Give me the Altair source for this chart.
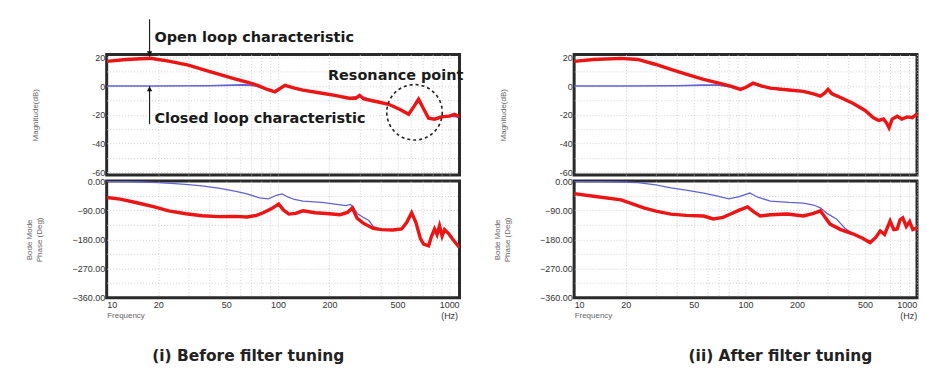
import altair as alt
import pandas as pd

# ---------------- (i) Before filter tuning ----------------
b_mag_open_f = [10, 13, 18, 23, 30, 37, 46, 56, 66, 76, 86, 96, 110, 125, 140, 181, 215, 260, 285, 300,
                318, 368, 444, 520, 580, 625, 663, 710, 759, 822, 900, 1000, 1075, 1150]
b_mag_open_db = [17.2, 18.5, 19.3, 17.4, 14.5, 11.3, 8.0, 5.0, 2.8, 0.5, -2.2, -4.0, 0.5, -1.5, -2.8, -5.0, -6.5, -8.5, -8.5, -6.5,
                 -9.0, -10.6, -12.7, -16.5, -19.7, -14.0, -9.2, -16.0, -22.4, -23.1, -21.5, -21.0, -19.7, -21.5]
b_mag_closed_f = [10, 20, 40, 55, 65, 75, 86, 96, 110, 125, 140, 181, 215, 260, 300, 368, 444, 520, 580, 625,
                  663, 710, 759, 822, 900, 1000, 1150]
b_mag_closed_db = [0.0, 0.0, 0.2, 0.6, 0.8, 0.0, -2.4, -4.2, 0.2, -1.6, -3.0, -5.0, -6.5, -8.5, -6.8, -10.6, -12.7, -16.5, -19.5, -14.0,
                   -9.5, -16.0, -22.0, -22.8, -21.5, -21.0, -21.5]
b_ph_open_f = [10, 12, 15, 19, 23, 29, 36, 45, 56, 66, 75, 82, 92, 101, 108, 116, 127, 140, 165, 200,
               230, 255, 272, 290, 315, 360, 404, 470, 528, 565, 604, 640, 680, 709, 759, 790, 822, 850, 879, 910,
               940, 993, 1050, 1150]
b_ph_open_deg = [-51, -56, -67, -80, -92, -101, -107, -110, -109, -111, -106, -98, -85, -71, -90, -102, -100, -92, -98, -101,
                 -104, -97, -83, -115, -130, -146, -150, -151, -148, -128, -98, -128, -178, -195, -200, -170, -148, -165, -138, -170,
                 -150, -162, -180, -206]
b_ph_closed_f = [10, 13, 16, 20, 25, 30, 36, 45, 56, 66, 78, 88, 98, 106, 115, 125, 140, 180, 215, 250,
                 265, 275, 290, 315, 340, 360, 404, 470, 528, 565, 604, 640, 680, 709, 759, 790, 822, 850, 879, 910,
                 940, 993, 1050, 1150]
b_ph_closed_deg = [-1, -2, -3, -5, -8, -11, -15, -22, -31, -40, -52, -55, -44, -40, -50, -57, -62, -66, -71, -76,
                   -72, -80, -100, -112, -122, -140, -150, -151, -148, -128, -98, -128, -178, -195, -200, -170, -148, -165, -138, -170,
                   -150, -162, -180, -206]

# ---------------- (ii) After filter tuning ----------------
a_mag_open_f = [10, 13, 18.8, 23.5, 30, 36.7, 46, 57, 70, 82, 93.5, 100, 111, 125, 140, 180, 218, 250, 274, 290,
                304, 320, 344, 424, 500, 557, 600, 640, 670, 690, 720, 770, 820, 880, 940, 1000, 1120]
a_mag_open_db = [17.2, 18.5, 19.3, 18.5, 15.0, 11.6, 8.0, 4.7, 2.0, 0.0, -2.3, -1.0, 2.0, 0.0, -1.5, -2.8, -3.7, -5.5, -7.0, -5.0,
                 -2.3, -5.5, -7.0, -12.0, -17.0, -22.0, -24.0, -23.0, -26.0, -29.0, -23.0, -21.0, -23.0, -21.5, -22.0, -19.7, -20.5]
a_mag_closed_f = [10, 20, 40, 57, 70, 82, 93.5, 100, 111, 125, 140, 180, 218, 274, 304, 344, 424, 500, 557, 600,
                  640, 670, 690, 720, 770, 820, 880, 940, 1000, 1120]
a_mag_closed_db = [0.0, 0.0, 0.2, 0.6, 0.6, -0.6, -2.6, -1.4, 1.6, -0.4, -1.8, -3.0, -3.8, -7.0, -2.8, -7.0, -12.0, -17.0, -22.0, -24.0,
                   -23.0, -26.0, -29.0, -23.0, -21.0, -23.0, -21.5, -22.0, -19.7, -20.5]
a_ph_open_f = [10, 13, 18.8, 25.5, 30, 36.7, 45, 57, 65, 74, 82, 92, 103, 112, 122, 140, 176, 218, 250, 274,
               312, 360, 424, 480, 535, 575, 613, 650, 700, 735, 770, 800, 830, 870, 910, 950, 1000, 1060, 1120]
a_ph_open_deg = [-39, -47, -58, -83, -93, -102, -106, -108, -117, -112, -102, -90, -80, -95, -108, -104, -102, -108, -100, -92,
                 -133, -150, -163, -176, -190, -175, -154, -165, -123, -150, -148, -120, -114, -140, -125, -150, -145, -165, -190]
a_ph_closed_f = [10, 14, 18.8, 23.5, 30, 36.7, 46, 57, 68, 80, 92, 106, 118, 140, 180, 218, 250, 274, 300, 340,
                 380, 424, 480, 535, 575, 613, 650, 700, 735, 770, 800, 830, 870, 910, 950, 1000, 1060, 1120]
a_ph_closed_deg = [-1, -2, -3, -5, -12, -21, -29, -37, -46, -55, -48, -37, -50, -62, -66, -68, -74, -83, -100, -117,
                   -145, -163, -176, -190, -175, -154, -165, -123, -150, -148, -120, -114, -140, -125, -150, -145, -165, -190]

# ---------------- annotations (left panel) ----------------
ann_text = ["Open loop characteristic", "Closed loop characteristic", "Resonance point"]
ann_f = [19.0, 19.0, 196]
ann_db = [33.2, -23.1, 6.8]
arrow_f = [17.8, 17.8]
arrow_from = [46.5, -26.6]
arrow_to = [20.5, 0.0]
arrow_dir = ["down", "up"]
res_f = [628]
res_db = [-18.3]

# ---------------- axes ----------------
freq_ticks = [10, 20, 30, 40, 50, 60, 70, 80, 90, 100, 200, 300, 400, 500, 600, 700, 800, 900, 1000]
mag_ticks = [20, 10, 0, -10, -20, -30, -40, -50, -60]
phase_ticks = [0, -45, -90, -135, -180, -225, -270, -315, -360]
captions = ["(i) Before filter tuning", "(ii) After filter tuning"]

RED = "#ee1414"
BLUE = "#6262d4"
FONT = "Liberation Sans"
BOLD_FONT = "DejaVu Sans"

freq_label_expr = ("datum.value == 1000 ? ['1000', '(Hz)'] : "
                   "(indexof([10, 20, 50, 100, 200, 500], datum.value) >= 0 ? '' + datum.value : '')")


def df(f, v):
    return pd.DataFrame({"f": f, "v": v, "i": list(range(len(f)))})


def bode(mag_o, mag_c, ph_o, ph_c, width, fmax, caption, cap_dx, annotate):
    xs = alt.Scale(type="log", domain=[10, fmax], nice=False)
    x_grid_op = {"condition": {"test": "datum.value == 10", "value": 0}, "value": 1}
    x_top = alt.X("f:Q", scale=xs,
                  axis=alt.Axis(values=freq_ticks, labels=False, ticks=False, domain=False, title=None,
                                gridOpacity=x_grid_op))
    y_mag = alt.Y("v:Q", scale=alt.Scale(domain=[-62, 22], nice=False, zero=False),
                  axis=alt.Axis(values=mag_ticks, labelExpr="datum.value % 20 == 0 ? '' + datum.value : ''",
                                labelOverlap=False, title="Magnitude(dB)", titleX=-67,
                                ticks=False, domain=False))

    def line(d, color, w, x, y):
        return alt.Chart(d).mark_line(color=color, strokeWidth=w, clip=True).encode(x=x, y=y, order="i:Q")

    mag_layers = [line(df(*mag_c), BLUE, 1.6, x_top, y_mag), line(df(*mag_o), RED, 3.4, x_top, y_mag)]
    if annotate:
        tdf = pd.DataFrame({"f": ann_f, "v": ann_db, "t": ann_text})
        adf = pd.DataFrame({"f": arrow_f, "v": arrow_from, "v2": arrow_to})
        hdf = pd.DataFrame({"f": arrow_f,
                            "v": [t + 2 if d == "down" else t - 2 for t, d in zip(arrow_to, arrow_dir)],
                            "d": arrow_dir})
        cdf = pd.DataFrame({"f": res_f, "v": res_db})
        mag_layers += [
            alt.Chart(adf).mark_rule(color="#222", strokeWidth=1.2).encode(x=x_top, y=y_mag, y2="v2:Q"),
            alt.Chart(hdf).mark_point(filled=True, size=30, color="#111", opacity=1).encode(
                x=x_top, y=y_mag,
                shape=alt.Shape("d:N", scale=alt.Scale(domain=["down", "up"],
                                                       range=["triangle-down", "triangle-up"]), legend=None)),
            alt.Chart(cdf).mark_point(shape="circle", size=3100, filled=False, color="#222",
                                      strokeWidth=1.6, strokeDash=[3, 3], opacity=1).encode(x=x_top, y=y_mag),
            alt.Chart(tdf).mark_text(align="left", baseline="middle", fontSize=14.5, fontWeight="bold",
                                     font=BOLD_FONT, color="#1a1a1a").encode(x=x_top, y=y_mag, text="t:N"),
        ]
    mag = alt.layer(*mag_layers).properties(width=width, height=121)

    x_bot = alt.X("f:Q", scale=xs,
                  axis=alt.Axis(values=freq_ticks, labelExpr=freq_label_expr, labelFlush=True,
                                labelOverlap=False, ticks=False, domain=False, labelPadding=3,
                                gridOpacity=x_grid_op,
                                title="Frequency", titleX=0, titleY=14, titleAlign="left",
                                titleBaseline="top", titleAnchor="start"))
    y_ph = alt.Y("v:Q", scale=alt.Scale(domain=[-360, 0], nice=False, zero=False),
                 axis=alt.Axis(values=phase_ticks,
                               labelExpr="datum.value % 90 == 0 ? format(datum.value, '.2f') : ''",
                               gridOpacity={"condition": {"test": "datum.value == 0 || datum.value == -360",
                                                          "value": 0}, "value": 1},
                               labelOverlap=False, title=["Bode Mode", "Phase (Deg)"], titleX=-73,
                               ticks=False, domain=False))
    ph = alt.layer(line(df(*ph_c), BLUE, 1.3, x_bot, y_ph), line(df(*ph_o), RED, 3.4, x_bot, y_ph)).properties(
        width=width, height=117,
        title=alt.TitleParams(caption, orient="bottom", anchor="middle", dx=cap_dx, offset=29,
                              fontSize=15.5, font=BOLD_FONT, fontWeight="bold", color="#222"))
    return mag, ph


magL, phL = bode((b_mag_open_f, b_mag_open_db), (b_mag_closed_f, b_mag_closed_db),
                 (b_ph_open_f, b_ph_open_deg), (b_ph_closed_f, b_ph_closed_deg),
                 354, 1150, captions[0], -35, True)
magR, phR = bode((a_mag_open_f, a_mag_open_db), (a_mag_closed_f, a_mag_closed_db),
                 (a_ph_open_f, a_ph_open_deg), (a_ph_closed_f, a_ph_closed_deg),
                 344, 1005, captions[1], 35, False)

chart = alt.concat(magL, magR, phL, phR, columns=2, bounds="flush",
                   spacing=alt.RowColnumber(row=6, column=115)).properties(
    padding={"left": 16, "top": 8, "right": 0, "bottom": 5}, background="white"
).configure_view(stroke="#2a2a2a", strokeWidth=3).configure_axis(
    labelFont=FONT, labelFontSize=9, labelColor="#333", titleFont=FONT, titleFontSize=8,
    titleColor="#666", titleFontWeight="normal", gridColor="#c4c4c4", gridDash=[1, 2], gridWidth=0.8
)

chart.save("out.html", embed_options={"renderer": "svg", "actions": False})
